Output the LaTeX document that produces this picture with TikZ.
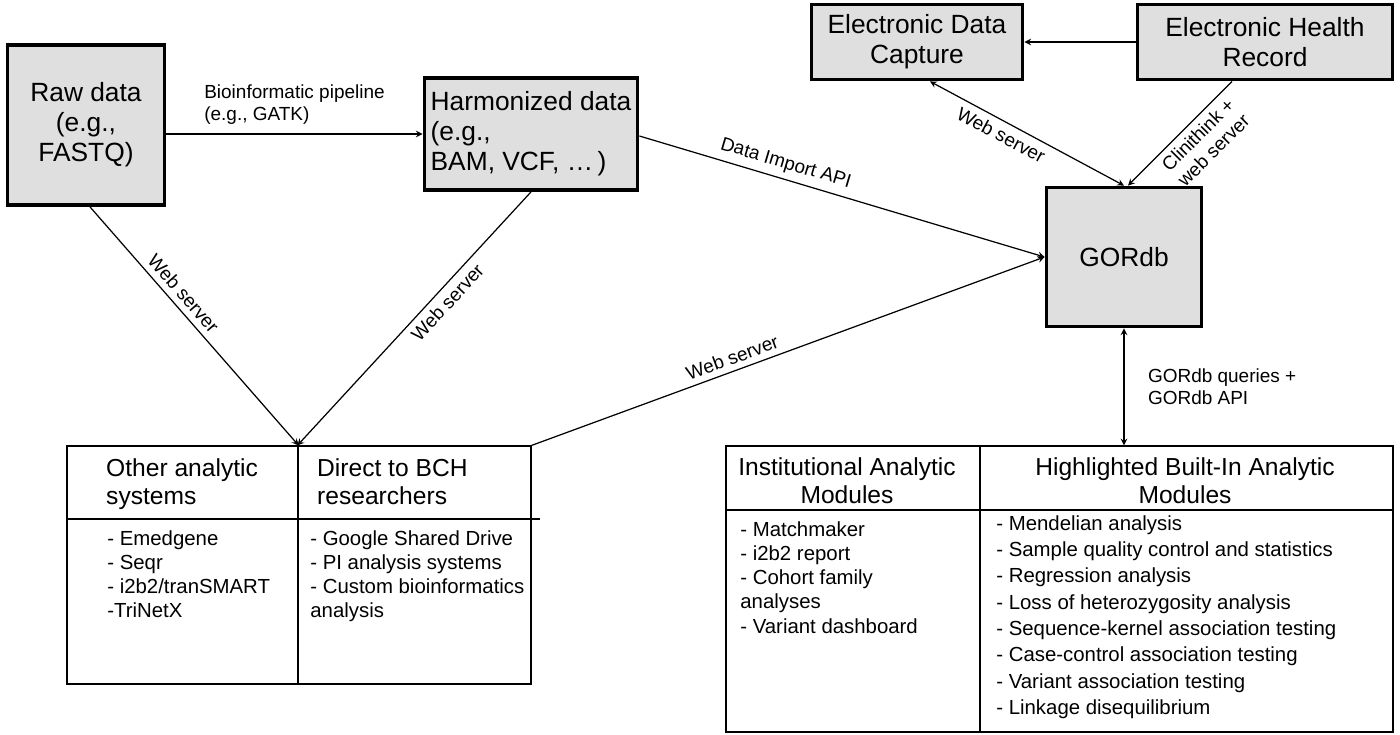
\documentclass[tikz,border=0pt]{standalone}
\usepackage{fontspec}
\setmainfont{Liberation Sans}
\usetikzlibrary{positioning}
\tikzstyle{store}=[draw,line width=2.2pt,fill=gray!25,align=center,font=\fontsize{15}{17}\selectfont,inner sep=0pt]
\tikzstyle{cell}=[draw,line width=0.7pt,inner sep=0pt]
\tikzstyle{link}=[->,>=stealth,line width=0.7pt]
\tikzstyle{lbl}=[font=\fontsize{10.8}{12.5}\selectfont,align=center]
\tikzstyle{head}=[font=\fontsize{14}{16}\selectfont]
\tikzstyle{items}=[font=\fontsize{11.6}{13.8}\selectfont,align=left,anchor=north west,inner sep=0pt]

\begin{document}
\begin{tikzpicture}[x=0.02cm,y=-0.02cm]
\useasboundingbox (0,0) rectangle (1400,734);
% data sources
\node[store,minimum width=3.14cm,minimum height=3.2cm] (raw) at (86,125) {Raw data\\(e.g.,\\FASTQ)};
\node[store,minimum width=4.26cm,minimum height=2.24cm,align=left] (harm) at (531,134) {Harmonized data\\(e.g.,\\BAM, VCF, \dots\,)};
\node[store,minimum width=4.22cm,minimum height=1.5cm] (edc) at (917,42) {Electronic Data\\Capture};
\node[store,minimum width=5.1cm,minimum height=1.5cm] (ehr) at (1265,42) {Electronic Health\\Record};
\node[store,minimum width=3.1cm,minimum height=2.78cm] (gor) at (1124,257) {GORdb};
% left table
\node[cell,minimum width=4.62cm,minimum height=4.76cm] (other) at (182.5,565) {};
\node[cell,minimum width=4.66cm,minimum height=4.76cm] (direct) at (414.5,565) {};
\draw[line width=0.7pt] (67,519) -- (540,519);
\node[head,align=left,anchor=north west] at (100,452) {Other analytic\\systems};
\node[head,align=left,anchor=north west] at (311,452) {Direct to BCH\\researchers};
\node[items] at (107,530) {- Emedgene\\- Seqr\\- i2b2/tranSMART\\-TriNetX};
\node[items] at (310,530) {- Google Shared Drive\\- PI analysis systems\\- Custom bioinformatics\\analysis};
% right table
\node[cell,minimum width=5.08cm,minimum height=5.72cm] (inst) at (853,589) {};
\node[cell,minimum width=8.26cm,minimum height=5.72cm] (built) at (1186.5,589) {};
\draw[line width=0.7pt] (726,510) -- (1393,510);
\node[head,align=center] at (847,481) {Institutional Analytic\\Modules};
\node[head,align=center] at (1185,481) {Highlighted Built-In Analytic\\Modules};
\node[items] at (740,521) {- Matchmaker\\- i2b2 report\\- Cohort family\\analyses\\- Variant dashboard};
\node[items,font=\fontsize{11.6}{15}\selectfont] at (996,515) {- Mendelian analysis\\- Sample quality control and statistics\\- Regression analysis\\- Loss of heterozygosity analysis\\- Sequence-kernel association testing\\- Case-control association testing\\- Variant association testing\\- Linkage disequilibrium};
% connectors
\draw[link] (raw.east |- 0,134) -- (harm.west |- 0,134)
  node[lbl,midway,above=2pt,align=left] {Bioinformatic pipeline\\(e.g., GATK)};
\draw[link] (harm.east |- 0,136) -- (gor.west)
  node[lbl,pos=0.35,above,sloped] {Data Import API};
\draw[link] (ehr.west) -- (edc.east);
\draw[link,<->] (edc.south -| 930,0) -- (gor.north)
  node[lbl,pos=0.4,below,sloped] {Web server};
\draw[link] (ehr.south -| 1232,0) -- (gor.north -| 1128,0)
  node[lbl,pos=0.42,below,sloped] {Clinithink +\\web server};
\draw[link,<->] (gor.south) -- (built.north -| gor.south)
  node[lbl,midway,right=10pt,align=left] {GORdb queries +\\GORdb API};
\draw[link] (raw.south -| 90,0) -- (other.north east)
  node[lbl,pos=0.4,above,sloped] {Web server};
\draw[link] (harm.south) -- (direct.north west)
  node[lbl,pos=0.4,below,sloped] {Web server};
\draw[link] (direct.north east) -- (gor.west)
  node[lbl,pos=0.4,above,sloped] {Web server};
\end{tikzpicture}
\end{document}
